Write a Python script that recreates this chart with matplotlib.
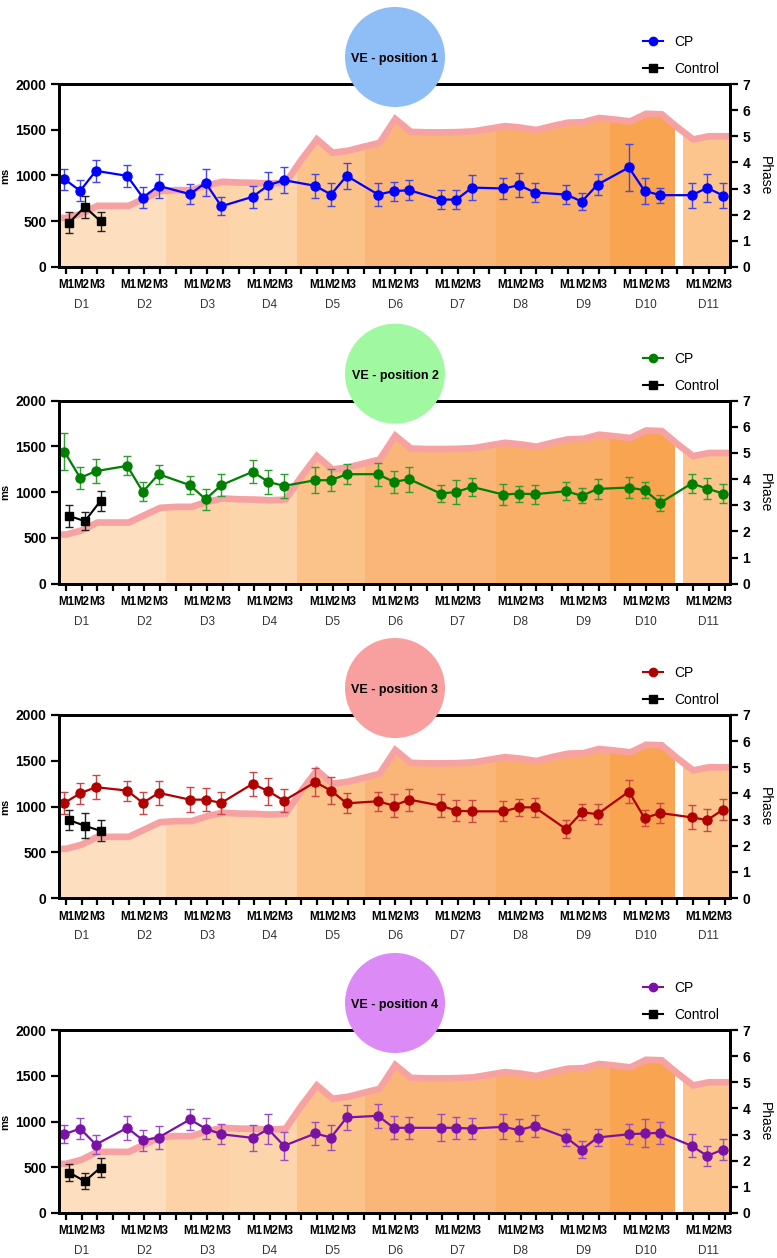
import matplotlib.pyplot as plt
import numpy as np
from matplotlib.patches import Ellipse, Rectangle
from matplotlib.lines import Line2D

plt.rcParams['font.family'] = ['Liberation Sans', 'DejaVu Sans']

days = [f"D{i}" for i in range(1, 12)]
sessions = ["M1", "M2", "M3"]

# phase level, one value per slot (4 slots per day, 4th slot is the gap)
phase = [1.88, 2.04, 2.34, 2.34, 2.34, 2.62, 2.90, 2.94, 2.94, 3.13, 3.26,
         3.23, 3.22, 3.19, 3.22, 4.09, 4.88, 4.37, 4.45, 4.60, 4.75, 5.66,
         5.17, 5.15, 5.15, 5.16, 5.19, 5.29, 5.39, 5.33, 5.24, 5.39, 5.52,
         5.54, 5.70, 5.64, 5.57, 5.86, 5.84, 5.34, 4.88, 5.00, 5.00]

# CP reaction times (ms), D1 M1 ... D11 M3
cp_pos1 = [960, 832, 1051, 996, 759, 887, 796, 920, 664, 767, 894, 949,
           887, 792, 996, 792, 829, 839, 737, 737, 868, 858, 894, 814,
           792, 715, 901, 1088, 832, 785, 785, 865, 781]
cp_pos1_err = [115, 115, 120, 118, 118, 130, 108, 146, 100, 122, 146, 140,
               134, 122, 142, 122, 105, 107, 107, 100, 134, 117, 130, 107,
               100, 94, 110, 260, 140, 82, 135, 150, 135]
cp_pos2 = [1442, 1157, 1230, 1288, 1004, 1197, 1077, 923, 1077, 1223, 1113, 1069,
           1131, 1131, 1197, 1197, 1113, 1142, 985, 1003, 1058, 974, 985, 978,
           1011, 960, 1036, 1051, 1022, 883, 1095, 1040, 985]
cp_pos2_err = [200, 118, 128, 104, 104, 104, 98, 115, 117, 124, 131, 130,
               142, 118, 111, 126, 119, 137, 91, 133, 102, 115, 88, 106,
               100, 82, 106, 119, 88, 89, 99, 110, 106]
cp_pos3 = [1039, 1145, 1211, 1174, 1039, 1149, 1075, 1075, 1039, 1248, 1167, 1064,
           1266, 1174, 1035, 1057, 1009, 1075, 1009, 954, 947, 947, 991, 991,
           752, 936, 917, 1163, 873, 929, 881, 852, 965]
cp_pos3_err = [123, 115, 132, 110, 123, 134, 134, 123, 119, 128, 147, 128,
               150, 143, 110, 105, 128, 120, 123, 117, 119, 110, 92, 104,
               99, 88, 110, 130, 88, 106, 132, 123, 115]
cp_pos4 = [861, 923, 748, 931, 796, 825, 1022, 923, 861, 821, 916, 734,
           869, 825, 1044, 1062, 931, 931, 931, 931, 923, 942, 905, 953,
           825, 693, 825, 861, 869, 876, 734, 624, 693]
cp_pos4_err = [97, 113, 100, 133, 113, 126, 115, 117, 110, 146, 161, 151,
               128, 133, 141, 131, 126, 121, 146, 121, 117, 135, 119, 119,
               89, 91, 89, 111, 153, 122, 126, 110, 113]

# Control, D1 only
ctrl_pos1, ctrl_pos1_err = [485, 657, 500], [111, 124, 105]
ctrl_pos2, ctrl_pos2_err = [741, 683, 905], [122, 97, 110]
ctrl_pos3, ctrl_pos3_err = [851, 789, 734], [110, 136, 114]
ctrl_pos4, ctrl_pos4_err = [442, 347, 496], [95, 88, 104]

panels = [
    ("VE - position 1", cp_pos1, cp_pos1_err, ctrl_pos1, ctrl_pos1_err),
    ("VE - position 2", cp_pos2, cp_pos2_err, ctrl_pos2, ctrl_pos2_err),
    ("VE - position 3", cp_pos3, cp_pos3_err, ctrl_pos3, ctrl_pos3_err),
    ("VE - position 4", cp_pos4, cp_pos4_err, ctrl_pos4, ctrl_pos4_err),
]

# styling
line_colors = ["#0000FF", "#008000", "#B00000", "#7B12A8"]
err_colors = ["#4646E6", "#2E9E2E", "#C84848", "#9A4CC4"]
circle_colors = ["#8FBDF6", "#A0F8A0", "#F8A0A0", "#DC8AF6"]
shade = [(-1, 6.4, "#FDDFBF"), (6.4, 10.4, "#FCD2A6"), (10.4, 14.76, "#FCD5AA"),
         (14.76, 19.1, "#FBC389"), (19.1, 27.4, "#FAB678"), (27.4, 34.7, "#F9AF68"),
         (34.7, 38.8, "#F8A450"), (39.35, 43, "#FCC58E")]
tops_px = [84, 400.7, 715, 1030]
H_PX = 183
XLIM = (-0.45, 42.35)

W, H = 777, 1258
fig = plt.figure(figsize=(W / 100, H / 100), dpi=100)

slot_x = np.arange(len(phase))
# phase band runs edge to edge of the plot
band_x = np.r_[XLIM[0], slot_x, XLIM[1]]
band_y = np.r_[phase[0], phase, phase[-1]]
x_cp = np.array([4 * d + m for d in range(len(days)) for m in range(3)])

for i, (title, cp, cp_err, ctrl, ctrl_err) in enumerate(panels):
    top = tops_px[i]
    ax = fig.add_axes([59 / W, 1 - (top + H_PX) / H, 671 / W, H_PX / H])
    ax2 = ax.twinx()
    ax.set_zorder(ax2.get_zorder() + 1)
    ax.patch.set_visible(False)

    # phase background
    for x0, x1, c in shade:
        poly = ax2.fill_between(band_x, 0, band_y, color=c, lw=0)
        poly.set_clip_path(Rectangle((x0, 0), x1 - x0, 8, transform=ax2.transData))
    ax2.plot(band_x, band_y, color="#F7A2A2", lw=4.8, solid_joinstyle="miter",
             solid_capstyle="butt")
    ax2.set_ylim(0, 7)
    ax2.set_yticks(range(8))
    ax2.set_ylabel("Phase", rotation=270, fontsize=10, va="center")
    ax2.yaxis.set_label_coords(1.052, 0.5)

    ax.errorbar(x_cp - 0.1, cp, yerr=cp_err, color=line_colors[i],
                ecolor=err_colors[i], elinewidth=1, capsize=3, capthick=1,
                marker="o", ms=6.5, lw=1.6)
    ax.errorbar(np.arange(3) + 0.2, ctrl, yerr=ctrl_err, color="black",
                ecolor="#222222", elinewidth=1, capsize=3, capthick=1,
                marker="s", ms=6, lw=1.5)

    ax.set_ylim(0, 2000)
    ax.set_yticks([0, 500, 1000, 1500, 2000])
    ax.set_xlim(*XLIM)
    ax.set_ylabel("ms", fontweight="bold", fontsize=8)
    ax.yaxis.set_label_coords(-0.072, 0.5)

    ax.xaxis.remove_overlapping_locs = False
    ax.set_xticks(slot_x)
    ax.set_xticklabels([sessions[k % 4] if k % 4 < 3 else "" for k in slot_x],
                       fontweight="bold", fontsize=8.3)
    ax.set_xticks(np.arange(len(days)) * 4 + 1, minor=True)
    ax.set_xticklabels(days, minor=True, fontsize=8.5, color="#333333")
    ax.tick_params(axis="x", which="major", length=5, width=1.6, pad=4)
    ax.tick_params(axis="x", which="minor", length=0, pad=23)

    for a in (ax, ax2):
        for s in a.spines.values():
            s.set_linewidth(2)
    ax.tick_params(axis="y", length=5.5, width=1.6, labelsize=10)
    ax2.tick_params(axis="y", length=5.5, width=1.6, labelsize=10)
    for lab in ax.get_yticklabels() + ax2.get_yticklabels():
        lab.set_fontweight("bold")

    # title bubble
    cy = top - 27
    fig.add_artist(Ellipse((395 / W, 1 - cy / H), 100 / W, 100 / H,
                           transform=fig.transFigure, color=circle_colors[i],
                           lw=0, zorder=5))
    fig.text(395 / W, 1 - (cy + 2) / H, title, ha="center", va="center",
             fontweight="bold", fontsize=9, zorder=6)

    handles = [Line2D([], [], color=line_colors[i], marker="o", ms=6, lw=1.5),
               Line2D([], [], color="black", marker="s", ms=5.5, lw=1.5)]
    ax.legend(handles, ["CP", "Control"], loc="upper left",
              bbox_to_anchor=(636 / W, 1 - (top - 56) / H),
              bbox_transform=fig.transFigure, frameon=False, borderpad=0,
              handlelength=1.45, handletextpad=0.8, labelspacing=0.95,
              fontsize=10)

fig.savefig("out.png", dpi=100)
